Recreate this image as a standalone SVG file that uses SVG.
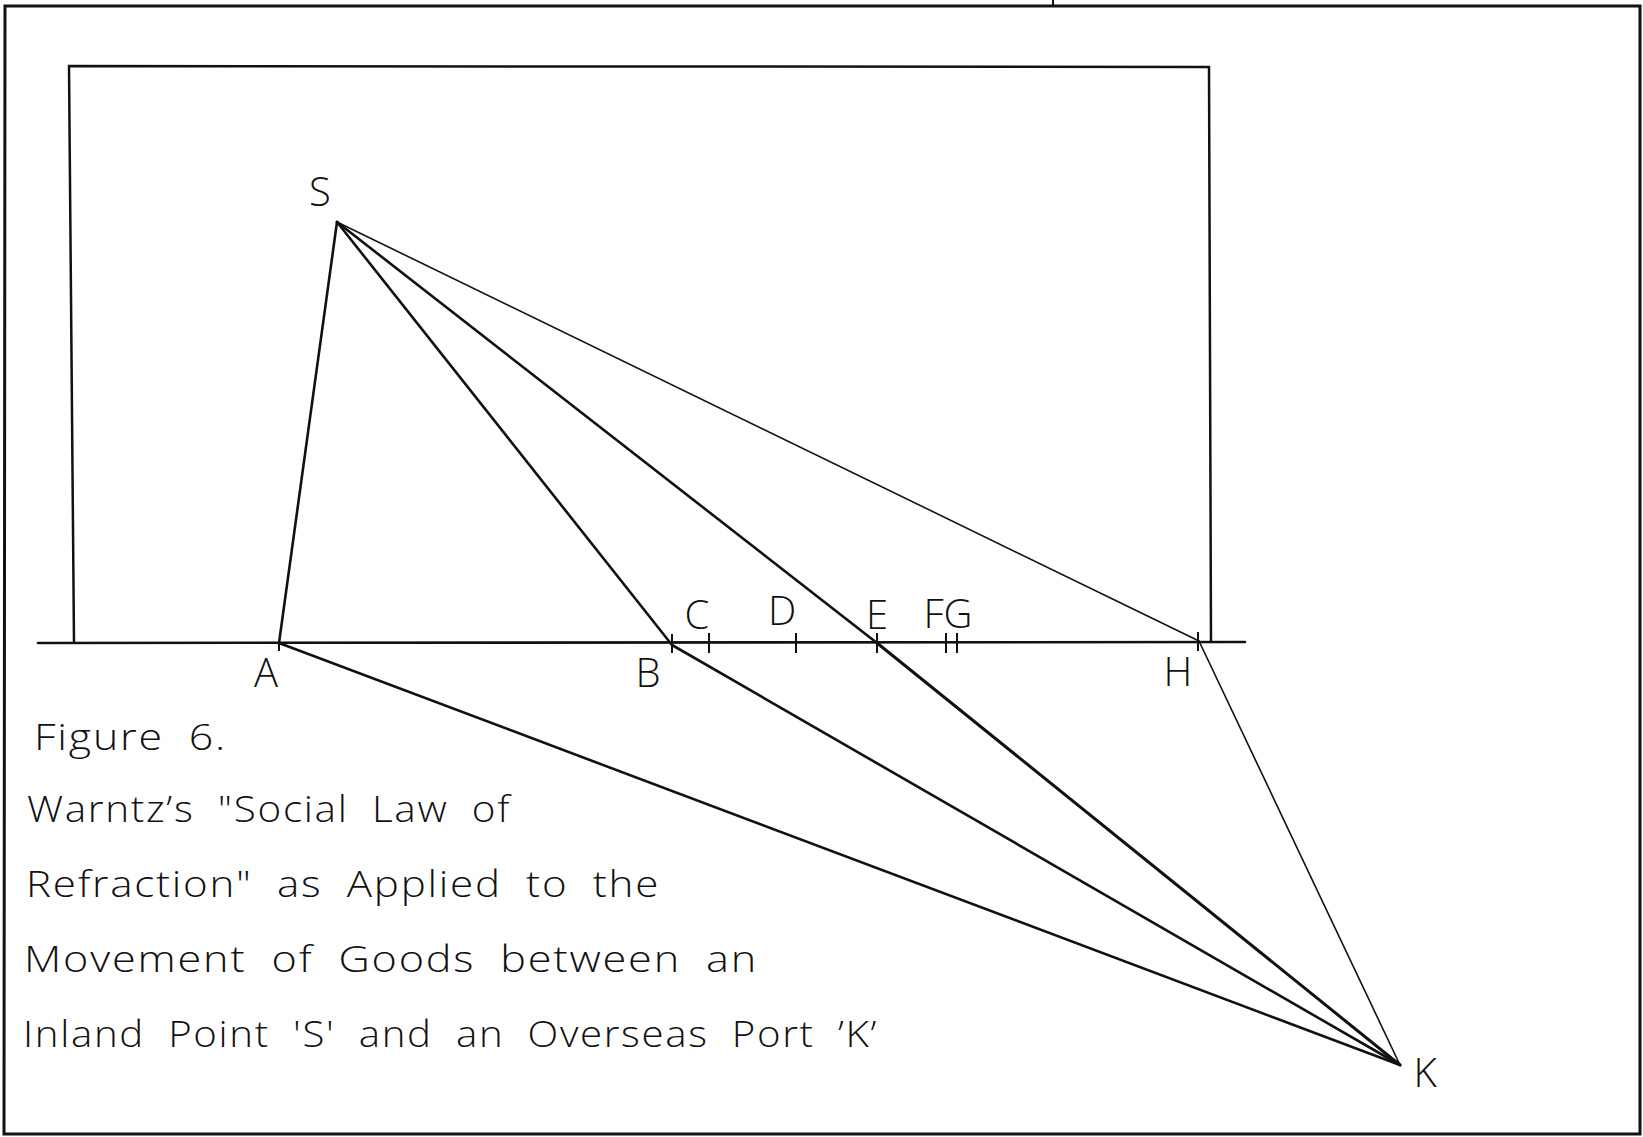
<svg xmlns="http://www.w3.org/2000/svg" width="1643" height="1137" viewBox="0 0 1643 1137">
<style>
.frame{fill:none;stroke:#111;stroke-width:3;stroke-linejoin:miter}
.ln{stroke:#111;stroke-linecap:round;fill:none}
.thick{stroke-width:2.6}
.thin{stroke-width:1.6}
.tick{stroke:#111;stroke-width:2}
.lbl{font-family:"Open Sans","Liberation Sans",sans-serif;font-weight:300;font-size:40px;fill:#111;text-anchor:middle}
.cap{font-family:"Open Sans","Liberation Sans",sans-serif;font-weight:300;font-size:36px;fill:#111;word-spacing:10px;letter-spacing:1.5px}
</style>
<rect width="1643" height="1137" fill="#fff"/>
<g id="frame">
<path class="frame" d="M5,6 L1640,6 L1640,1134 L4,1134 Z"/>
<line x1="1053" y1="0" x2="1053" y2="6" class="tick"/>
<path class="frame" d="M74,643 L69,66 L1209,67 L1211,641" style="stroke-width:2.5"/>
<line x1="38" y1="643" x2="1245" y2="642" class="ln" style="stroke-width:2.6"/>
</g>
<g id="connectors">
<line class="ln thick" x1="337" y1="222" x2="279" y2="643"/>
<line class="ln thick" x1="337" y1="222" x2="672" y2="645"/>
<line class="ln thick" x1="337" y1="222" x2="877" y2="643"/>
<line class="ln thin" x1="337" y1="222" x2="1199" y2="641"/>
<line class="ln thick" x1="279" y1="643" x2="1400" y2="1065"/>
<line class="ln thick" x1="672" y1="645" x2="1400" y2="1065"/>
<line class="ln" style="stroke-width:3" x1="877" y1="643" x2="1400" y2="1065"/>
<line class="ln thin" x1="1199" y1="641" x2="1400" y2="1065"/>
</g>
<g id="node-S"><text class="lbl" x="320" y="206">S</text></g>
<g id="node-A"><line class="tick" x1="279" y1="643" x2="279" y2="651"/><text class="lbl" x="266" y="687">A</text></g>
<g id="node-B"><line class="tick" x1="672" y1="634" x2="672" y2="653"/><text class="lbl" x="648" y="687">B</text></g>
<g id="node-C"><line class="tick" x1="709" y1="633" x2="709" y2="653"/><text class="lbl" x="697" y="629">C</text></g>
<g id="node-D"><line class="tick" x1="796" y1="633" x2="796" y2="653"/><text class="lbl" x="782" y="625">D</text></g>
<g id="node-E"><line class="tick" x1="877" y1="633" x2="877" y2="653"/><text class="lbl" x="877" y="629">E</text></g>
<g id="node-FG"><line class="tick" x1="946" y1="633" x2="946" y2="653"/><line class="tick" x1="957" y1="633" x2="957" y2="653"/><text class="lbl" x="948" y="628">FG</text></g>
<g id="node-H"><line class="tick" x1="1198" y1="632" x2="1198" y2="651"/><text class="lbl" x="1178" y="686">H</text></g>
<g id="node-K"><text class="lbl" x="1425" y="1087">K</text></g>
<g id="caption">
<text class="cap" x="34" y="750" textLength="193" lengthAdjust="spacingAndGlyphs">Figure 6.</text>
<text class="cap" x="27" y="822" textLength="484" lengthAdjust="spacingAndGlyphs">Warntz’s "Social Law of</text>
<text class="cap" x="26" y="897" textLength="634" lengthAdjust="spacingAndGlyphs">Refraction" as Applied to the</text>
<text class="cap" x="24" y="972" textLength="734" lengthAdjust="spacingAndGlyphs">Movement of Goods between an</text>
<text class="cap" x="23" y="1047" textLength="855" lengthAdjust="spacingAndGlyphs">Inland Point 'S' and an Overseas Port ’K’</text>
</g>
</svg>
